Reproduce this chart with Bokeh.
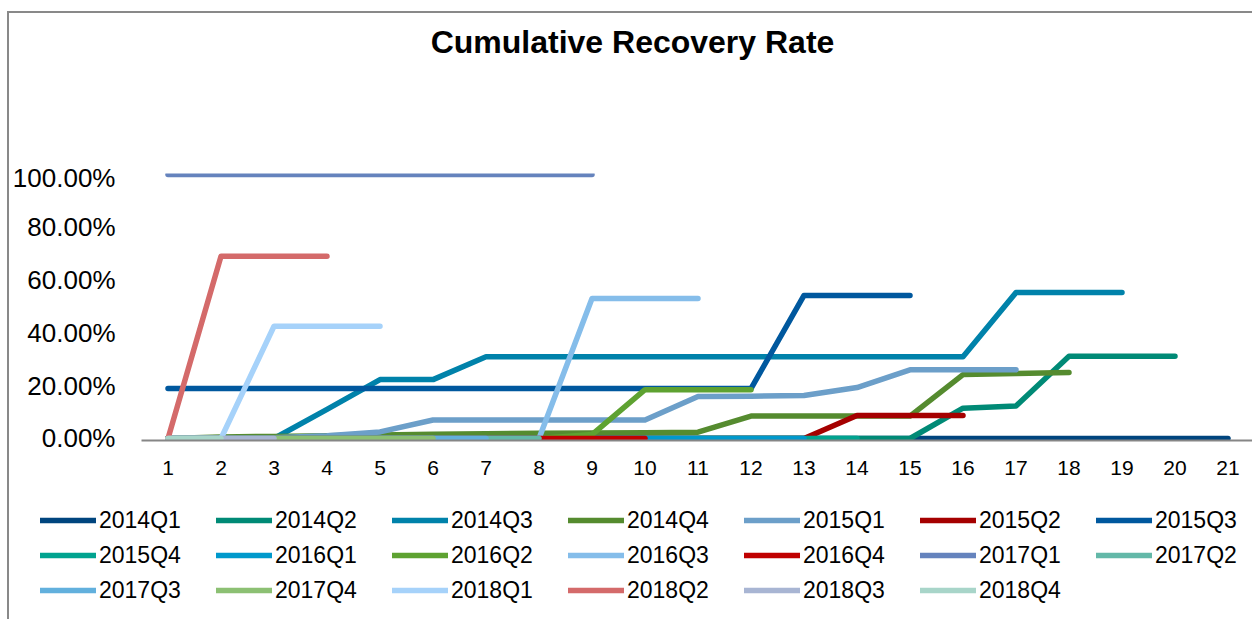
from bokeh.plotting import figure
from bokeh.models import (FactorRange, Range1d, NumeralTickFormatter, Legend, LegendItem,
                          Label, ColumnDataSource)
from bokeh.layouts import column
from bokeh.embed import file_html
from bokeh.resources import INLINE

periods = ["1", "2", "3", "4", "5", "6", "7", "8", "9", "10", "11",
           "12", "13", "14", "15", "16", "17", "18", "19", "20", "21"]

cohorts = ["2014Q1", "2014Q2", "2014Q3", "2014Q4", "2015Q1", "2015Q2", "2015Q3",
           "2015Q4", "2016Q1", "2016Q2", "2016Q3", "2016Q4", "2017Q1", "2017Q2",
           "2017Q3", "2017Q4", "2018Q1", "2018Q2", "2018Q3", "2018Q4"]

r2014Q1 = [0, 0, 0, 0, 0, 0, 0, 0, 0, 0, 0, 0, 0, 0, 0, 0, 0, 0, 0, 0, 0]
r2014Q2 = [0, 0, 0, 0, 0, 0, 0, 0, 0, 0, 0, 0, 0, 0, 0, 0.115, 0.123, 0.312, 0.312, 0.312]
r2014Q3 = [0, 0, 0, 0.11, 0.223, 0.223, 0.31, 0.31, 0.31, 0.31, 0.31, 0.31, 0.31, 0.31,
           0.31, 0.31, 0.553, 0.553, 0.553]
r2014Q4 = [0, 0.006, 0.008, 0.010, 0.013, 0.016, 0.018, 0.020, 0.021, 0.022, 0.024,
           0.085, 0.085, 0.085, 0.085, 0.242, 0.246, 0.25]
r2015Q1 = [0, 0, 0.003, 0.01, 0.025, 0.07, 0.07, 0.07, 0.07, 0.07, 0.159, 0.16, 0.163,
           0.193, 0.26, 0.26, 0.26]
r2015Q2 = [0, 0, 0, 0, 0, 0, 0, 0, 0, 0, 0, 0, 0, 0.087, 0.087, 0.087]
r2015Q3 = [0.189, 0.189, 0.189, 0.189, 0.189, 0.189, 0.189, 0.189, 0.189, 0.189, 0.189,
           0.189, 0.542, 0.542, 0.542]
r2015Q4 = [0, 0, 0, 0, 0, 0, 0, 0, 0, 0, 0, 0, 0, 0]
r2016Q1 = [0, 0, 0, 0, 0, 0, 0, 0, 0, 0, 0, 0, 0]
r2016Q2 = [0, 0, 0, 0, 0, 0, 0, 0, 0.015, 0.185, 0.185, 0.185]
r2016Q3 = [0, 0, 0, 0, 0, 0, 0, 0, 0.53, 0.53, 0.53]
r2016Q4 = [0, 0, 0, 0, 0, 0, 0, 0, 0, 0]
r2017Q1 = [1.0, 1.0, 1.0, 1.0, 1.0, 1.0, 1.0, 1.0, 1.0]
r2017Q2 = [0, 0, 0, 0, 0, 0, 0, 0]
r2017Q3 = [0, 0, 0, 0, 0, 0, 0]
r2017Q4 = [0, 0, 0, 0, 0, 0]
r2018Q1 = [0, 0, 0.425, 0.425, 0.425]
r2018Q2 = [0, 0.69, 0.69, 0.69]
r2018Q3 = [0, 0, 0]
r2018Q4 = [0, 0]

series = [r2014Q1, r2014Q2, r2014Q3, r2014Q4, r2015Q1, r2015Q2, r2015Q3, r2015Q4,
          r2016Q1, r2016Q2, r2016Q3, r2016Q4, r2017Q1, r2017Q2, r2017Q3, r2017Q4,
          r2018Q1, r2018Q2, r2018Q3, r2018Q4]

colors = ["#00457E", "#008A76", "#0082AA", "#558B2F", "#6C9FC9", "#A50000", "#00589E",
          "#00A38F", "#0099CC", "#5EA231", "#85BDEA", "#C00000", "#6583BD", "#63B8A8",
          "#62B0DD", "#8CC073", "#A6D2FA", "#D46A6A", "#A8B5D3", "#A8D5C9"]

title_text = "Cumulative Recovery Rate"

FONT = "Liberation Sans"
BORDER = "2px solid #898989"
W = 1245
LW = 5.5


def no_align(fig):
    if "frame_align" in fig.properties():
        fig.frame_align = False


# ---- title strip -------------------------------------------------------
tf = figure(width=W, height=151, output_backend="svg", toolbar_location=None,
            x_axis_type=None, y_axis_type=None,
            x_range=Range1d(0, W), y_range=Range1d(0, 151),
            min_border=0, min_border_left=0, min_border_right=0,
            min_border_top=0, min_border_bottom=0, outline_line_color=None)
tf.grid.visible = False
no_align(tf)
tf.styles = {"border-left": BORDER, "border-top": BORDER,
             "margin-left": "7px", "margin-top": "11px"}
tf.add_layout(Label(x=623, y=123, text=title_text, text_align="center",
                    text_baseline="alphabetic", text_font=FONT, text_font_style="bold",
                    text_font_size="32px", text_color="black"))

# ---- main chart ----------------------------------------------------------
p = figure(width=W, height=331, output_backend="svg", toolbar_location=None,
           x_range=FactorRange(*periods, range_padding=0),
           y_range=Range1d(-0.0076, 1.0038),
           min_border_left=131, min_border_right=0, min_border_top=11, min_border_bottom=53,
           outline_line_color=None, background_fill_color="white", border_fill_color="white")
no_align(p)
p.styles = {"border-left": BORDER, "margin-left": "7px"}

p.xgrid.grid_line_color = None
p.ygrid.grid_line_color = None

p.xaxis.axis_line_color = "#868686"
p.xaxis.axis_line_width = 2
p.xaxis.major_tick_line_color = None
p.xaxis.minor_tick_line_color = None
p.xaxis.major_tick_out = 0
p.xaxis.major_tick_in = 0
p.xaxis.major_label_text_font = FONT
p.xaxis.major_label_text_font_size = "21px"
p.xaxis.major_label_text_color = "black"
p.xaxis.major_label_standoff = 20

p.yaxis.axis_line_color = None
p.yaxis.major_tick_line_color = None
p.yaxis.minor_tick_line_color = None
p.yaxis.major_tick_out = 0
p.yaxis.major_tick_in = 0
p.yaxis.ticker = [0, 0.2, 0.4, 0.6, 0.8, 1.0]
p.yaxis.formatter = NumeralTickFormatter(format="0.00%")
p.yaxis.major_label_text_font = FONT
p.yaxis.major_label_text_font_size = "26px"
p.yaxis.major_label_text_color = "black"
p.yaxis.major_label_standoff = 26

for name, vals, col in zip(cohorts, series, colors):
    src = ColumnDataSource(dict(x=periods[:len(vals)], y=vals))
    p.line("x", "y", source=src, line_color=col, line_width=LW,
           line_cap="round", line_join="round")

# ---- legend strip ----------------------------------------------------------
lf = figure(width=W, height=126, output_backend="svg", toolbar_location=None,
            x_axis_type=None, y_axis_type=None,
            x_range=Range1d(0, 1), y_range=Range1d(0, 1),
            min_border=0, min_border_left=0, min_border_right=0,
            min_border_top=0, min_border_bottom=0, outline_line_color=None)
lf.grid.visible = False
no_align(lf)
lf.styles = {"border-left": BORDER, "margin-left": "7px"}

nan = float("nan")
items = []
for name, col in zip(cohorts, colors):
    r = lf.line(x=[nan, nan], y=[nan, nan], line_color=col, line_width=LW, line_cap="round")
    items.append(LegendItem(label=name, renderers=[r]))

legend = Legend(items=items, orientation="horizontal", ncols=7,
                location=(31, 15), padding=0, margin=0,
                border_line_color=None, background_fill_alpha=0,
                glyph_width=56, glyph_height=20, label_height=28, label_width=110,
                label_standoff=3, spacing=7,
                label_text_font=FONT, label_text_font_size="23px", label_text_color="black")
lf.add_layout(legend, "center")

layout = column(tf, p, lf, spacing=0)
open("out.html", "w").write(file_html(layout, INLINE))
